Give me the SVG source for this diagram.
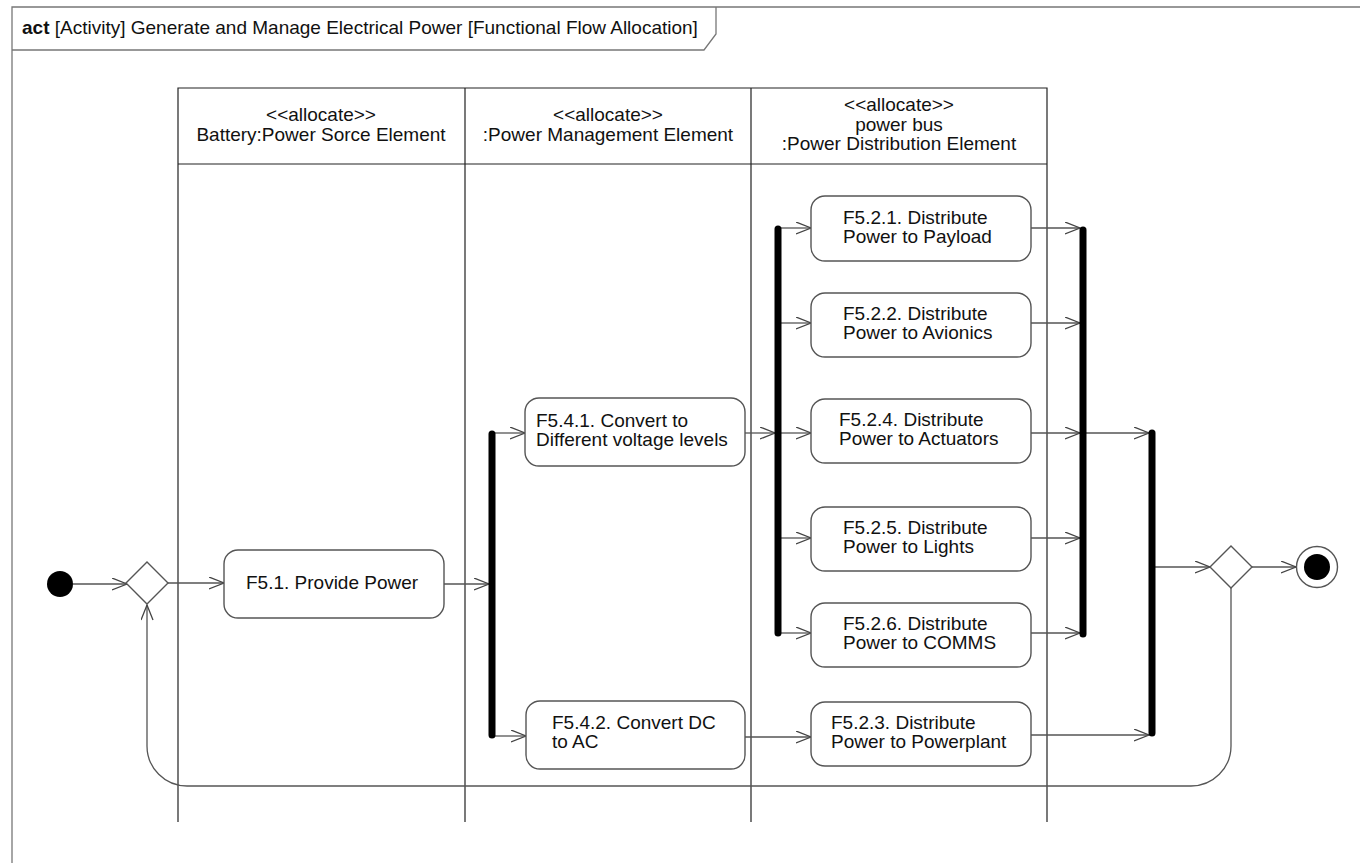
<svg xmlns="http://www.w3.org/2000/svg" width="1360" height="863" viewBox="0 0 1360 863">
<style>
text{font-family:"Liberation Sans",Arial,sans-serif;font-size:19px;fill:#111}
.mid{text-anchor:middle}
.frame{fill:none;stroke:#777;stroke-width:1.3}
.lane{fill:none;stroke:#222;stroke-width:1.2}
.act{fill:#fff;stroke:#555;stroke-width:1.4}
.bar{stroke:#000;stroke-width:7;stroke-linecap:round}
.dec{fill:#fff;stroke:#555;stroke-width:1.4}
.edge{fill:none;stroke:#555;stroke-width:1.3;marker-end:url(#arr)}
</style>
<defs>
<marker id="arr" markerUnits="userSpaceOnUse" markerWidth="18" markerHeight="14" refX="15.5" refY="6.5" orient="auto">
<path d="M0.5,0.5 L15.5,6.5 L0.5,12.5" fill="none" stroke="#444" stroke-width="1.3"/>
</marker>
</defs>
<rect width="1360" height="863" fill="#fff"/>
<g id="frame">
<path class="frame" d="M12,880 V7 H1375"/>
<path class="frame" d="M12,50 H704 L716,34 V7"/>
<text x="22" y="34"><tspan font-weight="bold">act</tspan> [Activity] Generate and Manage Electrical Power [Functional Flow Allocation]</text>
</g>
<g id="lanes">
<path class="lane" d="M178,822 V88 H1047 V822 M465,88 V822 M751,88 V822 M178,164 H1047"/>
<text class="mid" x="321" y="121">&lt;&lt;allocate&gt;&gt;</text>
<text class="mid" x="321" y="140.5">Battery:Power Sorce Element</text>
<text class="mid" x="608" y="121">&lt;&lt;allocate&gt;&gt;</text>
<text class="mid" x="608" y="140.5">:Power Management Element</text>
<text class="mid" x="899" y="111">&lt;&lt;allocate&gt;&gt;</text>
<text class="mid" x="899" y="130.5">power bus</text>
<text class="mid" x="899" y="150">:Power Distribution Element</text>
</g>
<g id="connectors">
<path class="edge" d="M73,584 H127"/>
<path class="edge" d="M168,583 H224"/>
<path class="edge" d="M444,584 H489"/>
<path class="edge" d="M495,433 H525"/>
<path class="edge" d="M495,736 H526"/>
<path class="edge" d="M745,433 H775"/>
<path class="edge" d="M781,228 H811"/>
<path class="edge" d="M781,323 H811"/>
<path class="edge" d="M781,433 H811"/>
<path class="edge" d="M781,538 H811"/>
<path class="edge" d="M781,633 H811"/>
<path class="edge" d="M745,737 H811"/>
<path class="edge" d="M1031,228 H1080"/>
<path class="edge" d="M1031,323 H1080"/>
<path class="edge" d="M1031,433 H1080"/>
<path class="edge" d="M1031,538 H1080"/>
<path class="edge" d="M1031,633 H1080"/>
<path class="edge" d="M1086,433 H1149"/>
<path class="edge" d="M1031,735 H1149"/>
<path class="edge" d="M1155,567 H1210"/>
<path class="edge" d="M1252,567 H1296"/>
<path class="edge" d="M1231,588 V746 A40,40 0 0 1 1191,786 H187 A40,40 0 0 1 147,746 V605"/>
</g>
<g id="initial"><circle cx="60" cy="584" r="13" fill="#000"/></g>
<g id="decision1"><path class="dec" d="M147,562 L168,583 L147,604 L126,583 Z"/></g>
<g id="F5.1"><rect class="act" x="224" y="550" width="220" height="68" rx="14"/><text x="246" y="589">F5.1. Provide Power</text></g>
<g id="fork1"><line class="bar" x1="492" y1="434" x2="492" y2="735"/></g>
<g id="F5.4.1"><rect class="act" x="525" y="398" width="220" height="68" rx="14"/><text x="536" y="427">F5.4.1. Convert to</text><text x="536" y="446">Different voltage levels</text></g>
<g id="F5.4.2"><rect class="act" x="526" y="701" width="219" height="68" rx="14"/><text x="552" y="729">F5.4.2. Convert DC</text><text x="552" y="748">to AC</text></g>
<g id="fork2"><line class="bar" x1="778" y1="229" x2="778" y2="633"/></g>
<g id="F5.2.1"><rect class="act" x="811" y="196" width="220" height="65" rx="14"/><text x="843" y="224">F5.2.1. Distribute</text><text x="843" y="243">Power to Payload</text></g>
<g id="F5.2.2"><rect class="act" x="811" y="293" width="220" height="64" rx="14"/><text x="843" y="320">F5.2.2. Distribute</text><text x="843" y="339">Power to Avionics</text></g>
<g id="F5.2.4"><rect class="act" x="811" y="399" width="220" height="64" rx="14"/><text x="839" y="426">F5.2.4. Distribute</text><text x="839" y="445">Power to Actuators</text></g>
<g id="F5.2.5"><rect class="act" x="811" y="507" width="220" height="64" rx="14"/><text x="843" y="534">F5.2.5. Distribute</text><text x="843" y="553">Power to Lights</text></g>
<g id="F5.2.6"><rect class="act" x="811" y="603" width="220" height="64" rx="14"/><text x="843" y="630">F5.2.6. Distribute</text><text x="843" y="649">Power to COMMS</text></g>
<g id="F5.2.3"><rect class="act" x="811" y="702" width="220" height="64" rx="14"/><text x="831" y="729">F5.2.3. Distribute</text><text x="831" y="748">Power to Powerplant</text></g>
<g id="join1"><line class="bar" x1="1083" y1="230" x2="1083" y2="634"/></g>
<g id="join2"><line class="bar" x1="1152" y1="433" x2="1152" y2="733"/></g>
<g id="decision2"><path class="dec" d="M1231,546 L1252,567 L1231,588 L1210,567 Z"/></g>
<g id="final"><circle cx="1317" cy="567" r="20.5" fill="#fff" stroke="#555" stroke-width="1.4"/><circle cx="1317" cy="567" r="13" fill="#000"/></g>
</svg>
